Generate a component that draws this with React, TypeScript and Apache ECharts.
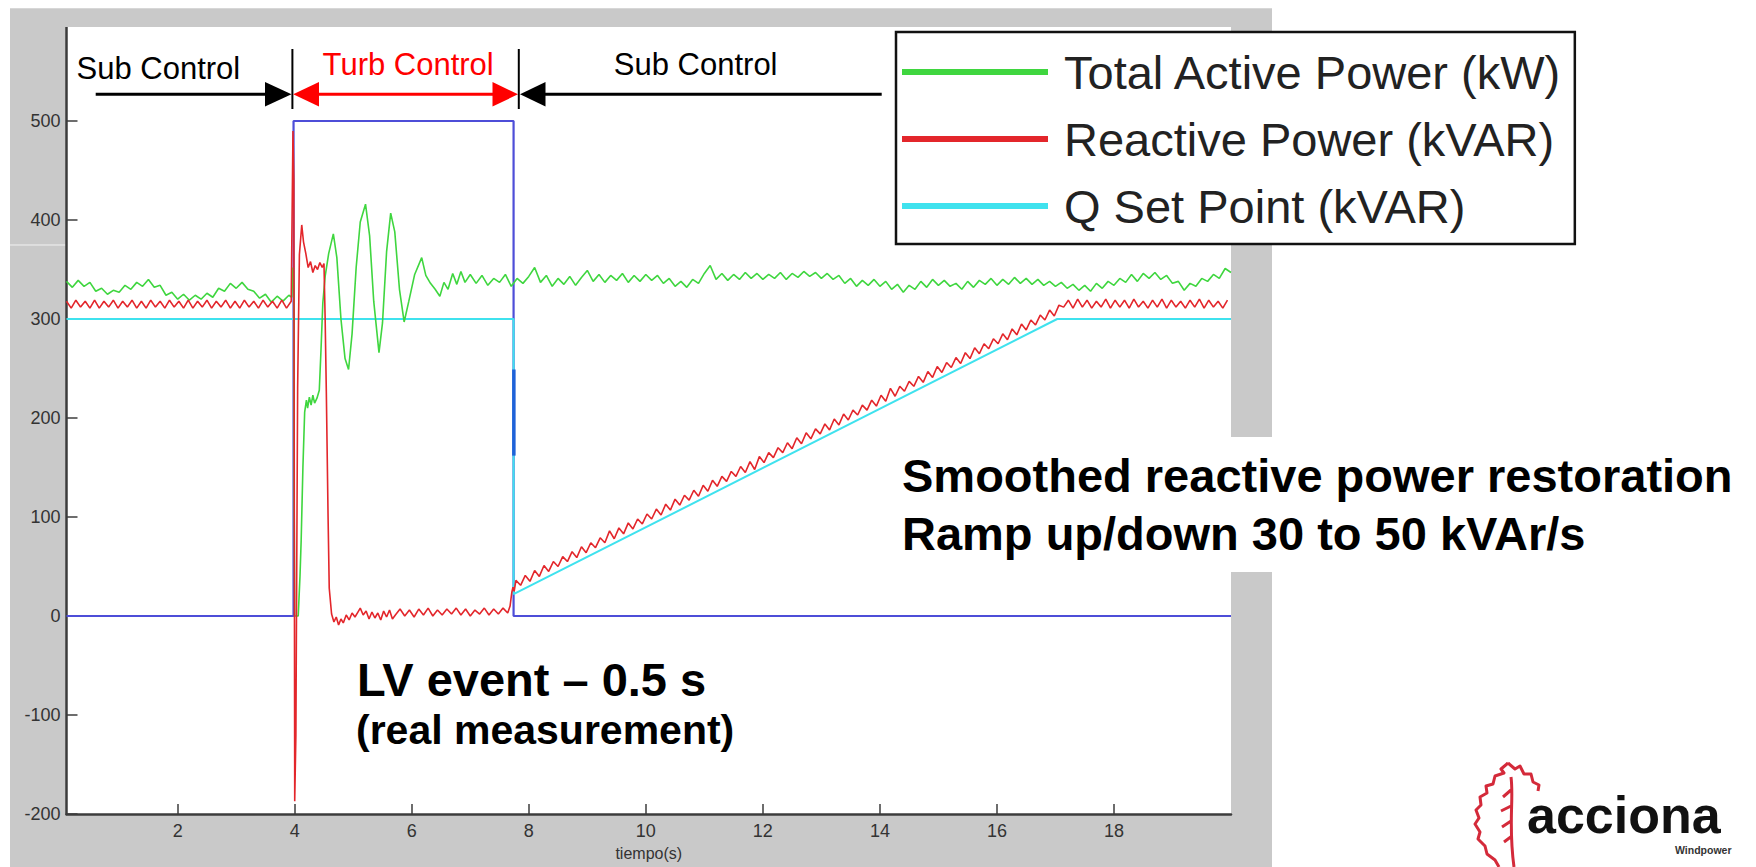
import React, { useEffect, useRef } from 'react';
import * as echarts from 'echarts';

const FONT = "Arial, 'Liberation Sans', Helvetica, sans-serif";

// ---- axis ticks ----
const xTicks = [2, 4, 6, 8, 10, 12, 14, 16, 18];
const yTicks = [-200, -100, 0, 100, 200, 300, 400, 500];

// ---- series names ----
const activeName = 'Total Active Power (kW)';
const reactiveName = 'Reactive Power (kVAR)';
const setPointName = 'Q Set Point (kVAR)';

// ---- Total Active Power (kW) ----
// sampled from t = 0.1 s every 0.1 s
const activePre = [
  338, 332, 339, 333, 337, 328, 331, 325, 329, 327,
  334, 330, 337, 333, 340, 332, 334, 324, 327, 320,
  325, 319, 324, 320, 326, 322, 331, 328, 336, 331,
  337, 330, 328, 321, 325, 317, 323, 318, 324,
];
// LV event (t, kW)
const activeEvent = [
  [3.95, 322], [3.97, 352], [3.985, 330], [3.99, 117], [4.0, 0], [4.06, 0], [4.09, 40],
  [4.11, 76], [4.14, 150], [4.17, 206], [4.2, 218], [4.22, 210], [4.25, 221], [4.28, 213],
  [4.31, 223], [4.34, 215], [4.38, 220], [4.42, 228], [4.45, 270], [4.48, 316], [4.52, 343],
  [4.58, 366], [4.66, 386], [4.72, 362], [4.79, 300], [4.86, 260], [4.92, 249], [4.98, 285],
  [5.05, 352], [5.12, 398], [5.21, 416], [5.28, 384], [5.35, 318], [5.44, 266], [5.5, 296],
  [5.57, 368], [5.64, 407], [5.71, 388], [5.79, 330], [5.87, 297], [5.95, 318], [6.05, 345],
  [6.17, 362], [6.24, 344], [6.32, 336], [6.4, 330], [6.48, 323], [6.55, 337], [6.62, 330],
  [6.7, 346], [6.77, 335], [6.84, 348], [6.91, 337], [7.0, 345],
];
// sampled from t = 7.1 s every 0.1 s
const activePost = [
  336, 344, 334, 341, 337, 345, 333, 341, 336, 343,
  352, 337, 344, 333, 341, 335, 343, 334, 342, 349,
  338, 345, 337, 344, 339, 346, 337, 344, 338, 345,
  339, 344, 336, 341, 333, 338, 332, 340, 336, 346,
  354, 340, 346, 339, 345, 340, 347, 341, 346, 340,
  345, 341, 347, 340, 346, 342, 348, 343, 347, 341,
  346, 340, 344, 336, 341, 333, 339, 334, 340, 333,
  338, 330, 335, 327, 334, 330, 338, 332, 340, 334,
  339, 333, 336, 330, 338, 332, 339, 335, 341, 334,
  340, 335, 342, 336, 341, 335, 340, 334, 338, 333,
  337, 331, 335, 329, 334, 328, 336, 331, 338, 334,
  341, 337, 345, 338, 346, 341, 347, 340, 344, 336,
  338, 329, 336, 333, 341, 338, 345, 341, 351, 347,
];

// ---- Reactive Power (kVAR) ----
// sampled from t = 0.1 s every 0.08 s
const reactivePre = [
  318, 311, 319, 312, 318, 311, 319, 311, 318, 312,
  319, 311, 318, 312, 319, 311, 318, 311, 319, 312,
  318, 311, 319, 312, 318, 311, 319, 311, 318, 312,
  319, 311, 318, 312, 319, 311, 318, 311, 319, 312,
  318, 311, 319, 312, 318, 311, 319, 311, 318,
];
const reactiveEvent = [
  [3.97, 490], [3.985, 440], [4.0, -187], [4.02, -120], [4.05, 230], [4.08, 365], [4.12, 395],
  [4.15, 378], [4.19, 366], [4.23, 352], [4.27, 358], [4.31, 347], [4.35, 354], [4.39, 350],
  [4.43, 357], [4.47, 352], [4.5, 356], [4.52, 300], [4.54, 227], [4.57, 100], [4.59, 28],
  [4.63, 2], [4.67, -6], [4.71, -1], [4.75, -9], [4.79, -3], [4.83, -7], [4.88, 1], [4.93, -4],
  [4.98, 3], [5.03, -1], [5.08, 4], [5.12, 8], [5.17, 1], [5.22, 5], [5.27, -3], [5.32, 4],
  [5.37, -2], [5.42, 3], [5.47, -4], [5.52, 5], [5.57, -1], [5.62, 6], [5.67, -3],
];
// sampled from t = 5.72 s every 0.08 s
const reactiveLow = [
  1, 7, 0, 6, -1, 7, 1, 8, 0, 6,
  1, 7, 2, 8, 1, 7, 0, 6, 2, 8,
  1, 7, 2, 8, 3,
];
const reactiveStep = [[7.68, 10], [7.71, 24], [7.73, 29], [7.75, 25]];
// sampled from t = 7.78 s every 0.08 s
const reactiveRamp = [
  36, 31, 41, 35, 46, 40, 51, 45, 55, 50, 60, 55, 65, 59, 70, 64, 74, 69, 79, 74,
  86, 78, 89, 83, 94, 88, 98, 93, 103, 98, 108, 102, 113, 107, 118, 112, 122, 117, 127, 121,
  132, 126, 137, 131, 141, 136, 146, 141, 151, 145, 156, 148, 161, 155, 165, 160, 170, 165, 175, 169,
  180, 174, 185, 179, 189, 184, 194, 188, 199, 193, 204, 198, 208, 203, 213, 208, 218, 212, 223, 217,
  230, 222, 232, 227, 237, 232, 242, 236, 247, 241, 252, 246, 256, 251, 261, 255, 266, 260, 271, 265,
  275, 270, 280, 275, 285, 279, 290, 284, 295, 289, 299, 294, 304, 299, 309, 303, 314,
];
// sampled from t = 17.14 s every 0.08 s
const reactivePost = [
  312, 319, 311, 320, 312, 319, 311, 318, 312, 320,
  311, 319, 312, 319, 311, 320, 312, 318, 311, 319,
  312, 320, 311, 319, 312, 318, 311, 319, 312, 320,
  311, 319, 312, 318, 311, 319,
];

// ---- Q Set Point (kVAR) ----
const setPoint = [[0.1, 300], [7.74, 300], [7.74, 22], [17.03, 300], [20, 300]];

// ---- control mode trace (blue) ----
const controlMode = [[0.1, 0], [3.98, 0], [3.98, 500], [7.74, 500], [7.74, 0], [20, 0]];
const controlMark = [[7.745, 162], [7.745, 249]];

function sampled(start: number, step: number, values: number[]) {
  return values.map((v, i) => [Math.round((start + i * step) * 1000) / 1000, v]);
}

const activeData = [
  ...sampled(0.1, 0.1, activePre),
  ...activeEvent,
  ...sampled(7.1, 0.1, activePost),
];
const reactiveData = [
  ...sampled(0.1, 0.08, reactivePre),
  ...reactiveEvent,
  ...sampled(5.72, 0.08, reactiveLow),
  ...reactiveStep,
  ...sampled(7.78, 0.08, reactiveRamp),
  ...sampled(17.14, 0.08, reactivePost),
];

const LEAF_D =
  'M38 3 L31 9 L34 13 L25 16 L23 24 L16 26 L17 33 L10 37 L11 45 L6 50 L9 58 L5 64 L10 72 L8 79 L15 86 L17 94 L25 100 L29 107 ' +
  'M38 3 L45 9 L50 6 L54 14 L61 14 L63 22 L69 25 L68 31 ' +
  'M41 17 C44 40 38 64 44 107 ' +
  'M41 30 L33 37 M41 46 L31 51 M41 61 L32 67 M42 76 L34 82';

let leafRegistered = false;
function registerLeaf() {
  if (leafRegistered) return;
  echarts.graphic.registerShape('accionaLeaf', echarts.graphic.extendPath(LEAF_D, {}) as any);
  leafRegistered = true;
}

function txt(text: string, x: number, y: number, size: number, fill: string, weight: string = 'normal') {
  return {
    type: 'text',
    z: 60,
    x,
    y,
    style: {
      text,
      fontSize: size,
      fontFamily: FONT,
      fontWeight: weight,
      fill,
      align: 'left',
      verticalAlign: 'middle',
    },
  };
}

function seg(x1: number, y1: number, x2: number, y2: number, stroke: string, w: number) {
  return { type: 'line', z: 60, shape: { x1, y1, x2, y2 }, style: { stroke, lineWidth: w } };
}

function tri(points: number[][], fill: string) {
  return { type: 'polygon', z: 60, shape: { points }, style: { fill } };
}

export default function App() {
  const ref = useRef<HTMLDivElement>(null);

  useEffect(() => {
    if (!ref.current) return;
    registerLeaf();
    const chart = echarts.init(ref.current, null, { renderer: 'svg' });
    const AY = 94.3;
    const option: any = {
      animation: false,
      backgroundColor: '#ffffff',
      grid: { left: 66.5, right: 525, top: 22, bottom: 53, containLabel: false },
      legend: {
        data: [activeName, reactiveName, setPointName],
        orient: 'vertical',
        left: 896,
        top: 32,
        backgroundColor: '#ffffff',
        borderColor: '#111111',
        borderWidth: 2.5,
        borderRadius: 0,
        padding: [15, 12, 13, 6],
        itemWidth: 146,
        itemHeight: 6,
        itemGap: 17,
        icon: 'rect',
        selectedMode: false,
        textStyle: {
          fontSize: 47,
          fontFamily: FONT,
          color: '#222222',
          lineHeight: 50,
          padding: [0, 0, 0, 11],
        },
        z: 40,
      },
      xAxis: {
        type: 'value',
        min: 0.1,
        max: 20,
        splitNumber: 10,
        name: 'tiempo(s)',
        nameLocation: 'middle',
        nameGap: 31,
        nameTextStyle: { fontSize: 16, fontFamily: FONT, color: '#333333' },
        axisLine: { show: true, onZero: false, lineStyle: { color: '#3c3c3c', width: 2.5 } },
        axisTick: { show: true, inside: true, length: 10, customValues: xTicks, lineStyle: { color: '#3c3c3c', width: 1.5 } },
        axisLabel: {
          customValues: xTicks,
          fontSize: 18,
          fontFamily: FONT,
          color: '#333333',
          margin: 8,
        },
        splitLine: { show: false },
      },
      yAxis: {
        type: 'value',
        min: -200,
        max: 600,
        interval: 100,
        axisLine: { show: true, onZero: false, lineStyle: { color: '#3c3c3c', width: 2.5 } },
        axisTick: { show: true, inside: true, length: 11, customValues: yTicks, lineStyle: { color: '#3c3c3c', width: 1.5 } },
        axisLabel: {
          customValues: yTicks,
          fontSize: 18,
          fontFamily: FONT,
          color: '#333333',
          margin: 6,
        },
        splitLine: { show: false },
      },
      series: [
        {
          name: 'Control mode',
          type: 'line',
          data: controlMode,
          symbol: 'none',
          silent: true,
          color: '#4e4ed8',
          lineStyle: { width: 2.2, color: '#4e4ed8' },
          z: 2,
        },
        {
          name: setPointName,
          type: 'line',
          data: setPoint,
          symbol: 'none',
          silent: true,
          color: '#3fe2ee',
          lineStyle: { width: 2, color: '#3fe2ee' },
          z: 3,
        },
        {
          name: activeName,
          type: 'line',
          data: activeData,
          symbol: 'none',
          silent: true,
          color: '#3fd63f',
          lineStyle: { width: 1.6, color: '#3fd63f' },
          z: 4,
        },
        {
          name: reactiveName,
          type: 'line',
          data: reactiveData,
          symbol: 'none',
          silent: true,
          color: '#e3262b',
          lineStyle: { width: 1.6, color: '#e3262b' },
          z: 5,
        },
        {
          name: 'Control mark',
          type: 'line',
          data: controlMark,
          symbol: 'none',
          silent: true,
          color: '#1f62d8',
          lineStyle: { width: 3.5, color: '#1f62d8' },
          z: 6,
        },
      ],
      graphic: [
        { type: 'rect', z: -10, shape: { x: 10, y: 8.5, width: 1262, height: 858.5 }, style: { fill: '#c9c9c9' } },
        { type: 'rect', z: -9, shape: { x: 66.5, y: 27, width: 1164.5, height: 787 }, style: { fill: '#ffffff' } },
        { type: 'line', z: -8, shape: { x1: 10, y1: 245, x2: 66, y2: 245 }, style: { stroke: '#f2f2f2', lineWidth: 1 } },
        { type: 'rect', z: -8, shape: { x: 888, y: 437, width: 868, height: 135 }, style: { fill: '#ffffff' } },
        { type: 'rect', z: 50, shape: { x: 10, y: 8.5, width: 1262, height: 18.5 }, style: { fill: '#c9c9c9' } },

        // control-region arrows
        seg(95.7, AY, 268, AY, '#000000', 3),
        tri([[265, 82], [291.5, AY], [265, 106.6]], '#000000'),
        seg(292.4, 49, 292.4, 109, '#000000', 2),
        seg(317, AY, 494, AY, '#ff0000', 3),
        tri([[319, 82], [293.2, AY], [319, 106.6]], '#ff0000'),
        tri([[492.5, 82], [518, AY], [492.5, 106.6]], '#ff0000'),
        seg(518.8, 49, 518.8, 109, '#000000', 2),
        tri([[545.5, 82], [520, AY], [545.5, 106.6]], '#000000'),
        seg(543, AY, 881.7, AY, '#000000', 3),

        txt('Sub Control', 76.5, 68.5, 31, '#000000'),
        txt('Turb Control', 322.6, 64.5, 31, '#ff0000'),
        txt('Sub Control', 613.8, 64.5, 31, '#000000'),

        txt('Smoothed reactive power restoration', 902, 475.4, 47, '#000000', 'bold'),
        txt('Ramp up/down 30 to 50 kVAr/s', 902, 533, 47, '#000000', 'bold'),
        txt('LV event \u2013 0.5 s', 357, 679.7, 47, '#000000', 'bold'),
        txt('(real measurement)', 356, 730, 41, '#000000', 'bold'),

        // logo
        {
          type: 'accionaLeaf',
          z: 60,
          x: 1470,
          y: 760,
          style: { stroke: '#d42a3a', fill: 'none', lineWidth: 3, lineJoin: 'round' },
        },
        txt('acciona', 1527, 815, 52, '#111111', 'bold'),
        txt('Windpower', 1675, 850, 10.5, '#333333', 'bold'),
      ],
    };
    chart.setOption(option);
    return () => {
      chart.dispose();
    };
  }, []);

  return (
    <div
      ref={ref}
      style={{ position: 'absolute', left: 0, top: 0, width: 1756, height: 867 }}
    />
  );
}
